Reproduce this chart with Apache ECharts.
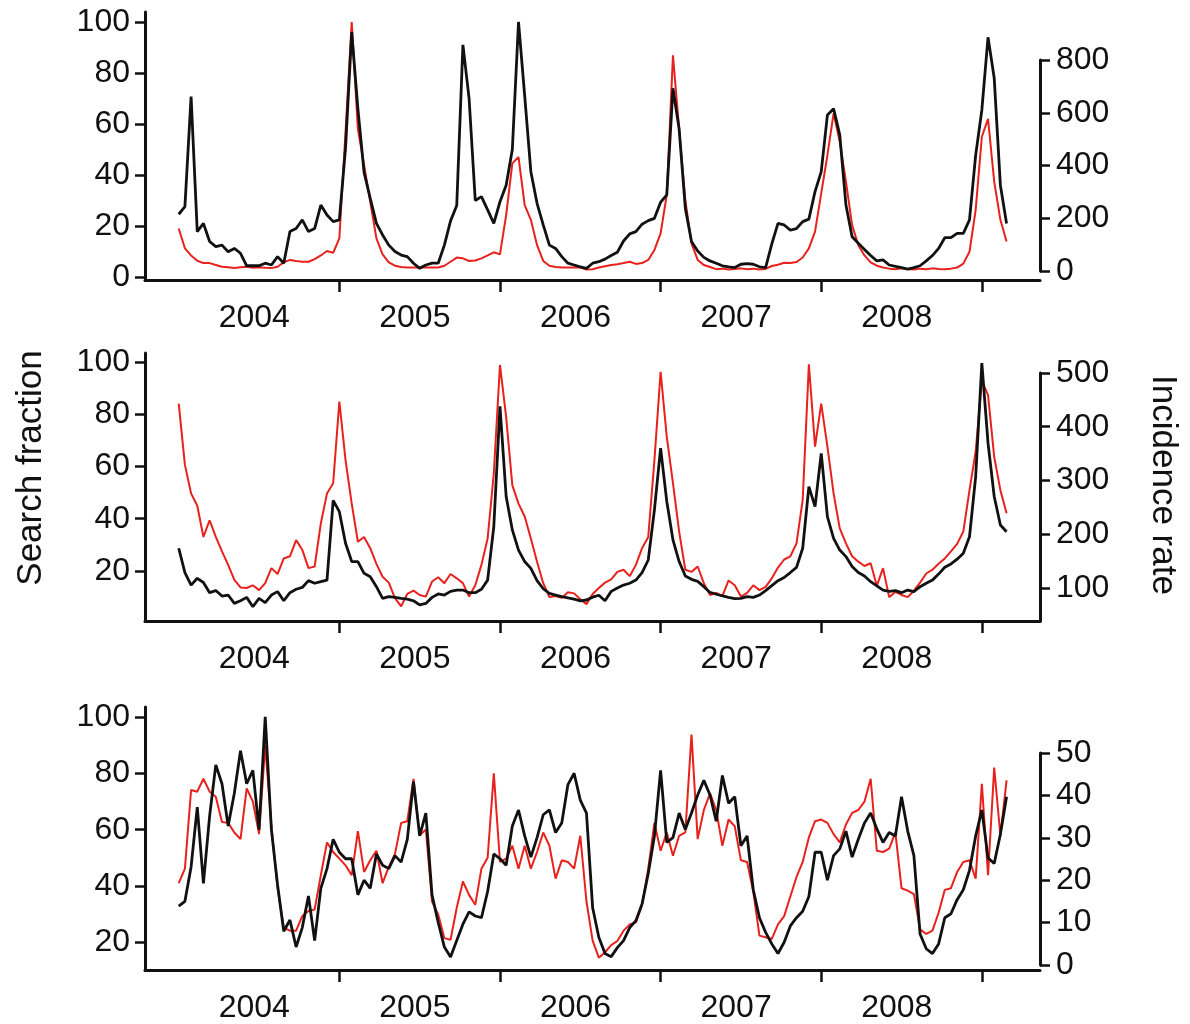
<!DOCTYPE html>
<html><head><meta charset="utf-8">
<script src="https://cdn.jsdelivr.net/npm/echarts@6/dist/echarts.min.js"></script>
<style>html,body{margin:0;padding:0;background:#fff}#c{width:1190px;height:1024px}</style>
</head><body><div id="c"></div><script>
// ---- data (biweekly samples starting Jan 2004) ----
const startYear = 2004;
const samplesPerYear = 26;
const yearTicks = [2005, 2006, 2007, 2008, 2009];
const yearLabels = ['2004', '2005', '2006', '2007', '2008'];

const p1LeftTicks = [0, 20, 40, 60, 80, 100];
const p1RightTicks = [0, 200, 400, 600, 800];
const p2LeftTicks = [20, 40, 60, 80, 100];
const p2RightTicks = [100, 200, 300, 400, 500];
const p3LeftTicks = [20, 40, 60, 80, 100];
const p3RightTicks = [0, 10, 20, 30, 40, 50];

// Panel 1
const p1Search = [24.6, 27.6, 70.7, 17.8, 21, 13.9, 11.9, 12.5, 9.9, 11.2,
 9.3, 4.4, 4.4, 4.4, 5.4, 4.7, 8, 5.4, 17.8, 19,
 22.4, 17.8, 19, 28.2, 24.3, 21.7, 22.4, 50.5, 96, 66,
 41, 30.8, 21, 16.5, 12.5, 10, 8.6, 8, 5.4, 3.4,
 4.7, 5.4, 5.4, 12.5, 22, 28, 91, 70, 30, 31.5,
 26.3, 21, 29.5, 36, 50, 100, 71, 41.3, 28.9, 20.4,
 12.5, 11.2, 8, 5.4, 4.7, 4, 3.4, 5.4, 6, 7,
 8.4, 9.7, 14.1, 16.9, 17.8, 20.7, 22.1, 23, 29.3, 32.2,
 74, 58, 27, 13.9, 10.2, 7.7, 6.3, 5.4, 4.4, 4,
 3.7, 5, 5.2, 5, 4, 3.7, 13, 21, 20.4, 18.4,
 19, 21.7, 22.7, 33.5, 41.3, 63.5, 66, 55.7, 28.2, 15.8,
 13.2, 10.8, 8.4, 6.3, 6.7, 4.7, 4.2, 3.7, 3.1, 3.7,
 4.4, 6.3, 8.4, 11.2, 15.4, 15.4, 17.1, 17.1, 22.4, 47.8,
 65.5, 94, 78, 36, 21];
const p1Incidence = [161, 86, 59, 39, 30, 30, 23, 16, 14, 11,
 14, 16, 12, 14, 12, 11, 16, 33, 42, 38,
 35, 35, 45, 59, 76, 69, 124, 528, 944, 538,
 403, 262, 124, 63, 33, 20, 15, 13, 13, 13,
 13, 13, 13, 20, 35, 51, 48, 38, 40, 48,
 59, 71, 63, 212, 408, 432, 250, 194, 98, 38,
 20, 15, 13, 13, 13, 13, 6, 7, 13, 18,
 23, 26, 30, 35, 27, 30, 42, 80, 143, 289,
 818, 538, 269, 105, 42, 23, 15, 7, 9, 6,
 8, 10, 7, 9, 6, 8, 19, 24, 31, 30,
 34, 51, 86, 149, 294, 439, 598, 490, 339, 174,
 98, 59, 33, 20, 13, 9, 7, 10, 8, 6,
 9, 7, 10, 8, 7, 9, 13, 28, 73, 232,
 509, 577, 339, 194, 112];

// Panel 2
const p2Search = [28.7, 19.4, 14.6, 17.2, 15.6, 11.7, 12.5, 10.4, 10.8, 7.6,
 8.6, 9.9, 6.3, 9.5, 7.9, 10.8, 12.1, 8.6, 11.7, 13,
 13.7, 16.3, 15.3, 15.9, 16.5, 47, 42.7, 30.6, 23.6, 23.6,
 19.1, 17.8, 14, 9.5, 10.2, 9.9, 9.5, 9.2, 8.6, 7,
 7.6, 9.9, 11.2, 10.8, 12.2, 12.7, 12.7, 11.7, 11.7, 13,
 16.5, 37, 83, 48.5, 35.7, 28, 23.6, 21, 16.3, 13.2,
 11.4, 10.8, 10.2, 9.7, 9.2, 8.6, 8.9, 10, 10.7, 8.6,
 12.2, 13.5, 14.6, 15.3, 16.5, 19.4, 24.2, 43.4, 67, 46.6,
 31.9, 23.6, 18.1, 16.8, 16, 14, 11.8, 11.1, 10.5, 9.9,
 9.4, 9.5, 10.2, 9.9, 10.8, 12.5, 14.4, 16.3, 17.5, 19.4,
 21.4, 28.7, 52.3, 44.6, 65, 40.8, 32.5, 28, 25.5, 21.7,
 19.4, 18.1, 15.9, 14.3, 12.7, 12.2, 12.5, 11.7, 12.7, 12.1,
 14, 15.3, 16.5, 18.8, 21.4, 22.7, 24.5, 26.8, 33.1, 56.1,
 99.5, 68.9, 48.5, 37.6, 35];
const p2Incidence = [443, 329, 276, 253, 195, 226, 195, 168, 143, 115,
 101, 100, 105, 96, 109, 137, 126, 155, 159, 189,
 171, 137, 140, 220, 276, 295, 447, 338, 257, 186,
 195, 174, 145, 121, 110, 81, 66, 89, 95, 87,
 84, 112, 120, 109, 126, 118, 109, 84, 105, 143,
 192, 313, 515, 418, 291, 257, 233, 192, 149, 109,
 83, 85, 82, 92, 90, 79, 70, 89, 100, 110,
 116, 130, 134, 122, 143, 174, 195, 338, 502, 381,
 295, 205, 134, 130, 140, 109, 87, 91, 85, 114,
 105, 84, 91, 105, 96, 102, 118, 138, 153, 159,
 183, 264, 516, 363, 443, 363, 276, 211, 183, 159,
 149, 141, 146, 104, 137, 83, 93, 87, 83, 95,
 110, 127, 134, 145, 155, 168, 182, 205, 282, 354,
 486, 459, 344, 282, 239];

// Panel 3
const p3Search = [32.9, 34.6, 46.8, 68, 41, 64.8, 83, 76.3, 61.3, 72.9,
 88, 76.3, 81, 60, 100, 60, 40.4, 24, 28, 18.4,
 25.3, 36.5, 20.7, 39.2, 46.2, 56.6, 52, 49.7, 49.7, 36.9,
 42.1, 39.2, 51.4, 47.4, 46.2, 50.8, 48.5, 56.6, 77, 57.8,
 65.9, 36.9, 27.1, 18.4, 14.9, 20.7, 26.5, 30.9, 29.4, 28.8,
 38.1, 51.4, 49.7, 47.4, 61.3, 67, 57.8, 50.3, 57.2, 65.3,
 67, 59, 62.4, 76, 80, 70.5, 65.9, 32.3, 21.9, 16.1,
 15, 18.2, 20.7, 25.3, 27.7, 33.7, 44.5, 57.8, 81, 55.5,
 57.2, 65.9, 60.1, 65.9, 72.3, 77.5, 72.3, 63, 79.2, 69.4,
 71.7, 54.3, 57.8, 38.7, 28.8, 23.6, 19.5, 16.1, 20.1, 25.9,
 28.8, 31.1, 36.3, 52, 52, 42.1, 50.8, 53.2, 59.5, 50.3,
 56.6, 62.4, 65.9, 60.3, 55.5, 59, 57.8, 71.7, 59.5, 50.8,
 23, 17.8, 16.1, 19.5, 28.8, 30.2, 35.2, 38.7, 45.6, 57.8,
 67, 50, 48, 58.4, 71.7];
const p3Incidence = [18.5, 22, 40.9, 40.5, 43.6, 40.5, 39.3, 33.2, 33, 30.7,
 29.1, 41.3, 38.1, 30.3, 51.7, 32.2, 17.3, 7.8, 7.1, 7.1,
 10.6, 11.8, 12.2, 20.4, 28.3, 26, 24.4, 22.8, 20.4, 31,
 21.2, 24, 26.3, 18.5, 22.4, 25.5, 33, 33.4, 43.6, 30,
 31.4, 14.1, 11, 5.3, 4.9, 12.6, 18.9, 15.7, 13.3, 22,
 24.6, 44.9, 23.6, 24.4, 27.5, 22, 27.5, 22, 26, 30.7,
 27.5, 19.6, 24, 23.6, 22, 29.9, 14.1, 4.7, 0.6, 1.9,
 3.6, 4.6, 7.1, 8.6, 9.1, 13.3, 22, 33, 26.3, 30.7,
 25.1, 29.9, 30.7, 54.2, 29.1, 36.1, 40.1, 36.1, 27.5, 33.8,
 32.2, 24, 23.6, 16.5, 5.9, 5.5, 5.1, 8.6, 10.6, 15.3,
 20, 23.6, 29.5, 33.4, 33.8, 33, 30.3, 28.3, 32.6, 35.4,
 36.1, 38.1, 43.6, 26.3, 26, 26.8, 30.7, 17.3, 16.7, 15.9,
 7.4, 6.3, 7.1, 11.4, 16.9, 17.3, 21.2, 23.6, 24, 19.6,
 42.4, 20.4, 46.3, 29.9, 43.2];

// ---- sampling dates (decimal years) ----
const times = p1Search.map((_, i) => startYear + i / samplesPerYear);
const pairs = arr => arr.map((v, i) => [times[i], v]);

// ---- layout / style ----
const FONT = '"Liberation Sans", Arial, Helvetica, sans-serif';
const INK = '#111';
const RED = '#e8211c';
const lab = { fontFamily: FONT, fontSize: 32, color: INK };
const X_MIN = 2003.79, X_MAX = 2009.362;
const GL = 145, GR = 150;

const panels = [
  { top: 12, bottom: 280, leftRange: [-1.18, 103.9], rightRange: [-34.1, 982],
    leftTicks: p1LeftTicks, rightTicks: p1RightTicks,
    dispTop: 60, dispBottom: 271, dispRange: [0, 800],
    search: p1Search, inc: p1Incidence },
  { top: 353, bottom: 621, leftRange: [0.86, 103.4], rightRange: [38.6, 537.2],
    leftTicks: p2LeftTicks, rightTicks: p2RightTicks,
    dispTop: 373, dispBottom: 621, dispRange: [38.6, 500],
    search: p2Search, inc: p2Incidence },
  { top: 707, bottom: 975, leftRange: [10.26, 103.5], rightRange: [-2.36, 60.85],
    leftTicks: p3LeftTicks, rightTicks: p3RightTicks,
    dispTop: 753, dispBottom: 965, dispRange: [0, 50],
    search: p3Search, inc: p3Incidence }
];

const grid = [], xAxis = [], yAxis = [], series = [];
const axLine = { show: true, onZero: false, lineStyle: { color: INK, width: 3 } };
const tickStyle = { color: INK, width: 2.5 };

panels.forEach((P, k) => {
  grid.push({ left: GL, right: GR, top: P.top, height: P.bottom - P.top });
  xAxis.push({
    gridIndex: k, type: 'value', min: X_MIN, max: X_MAX,
    axisLine: axLine,
    axisTick: { show: true, inside: false, length: 12, customValues: yearTicks, lineStyle: tickStyle },
    axisLabel: { ...lab, margin: 22, customValues: yearLabels.map(y => Number(y) + 0.47),
      formatter: v => String(Math.floor(v + 0.001)) },
    splitLine: { show: false }
  });
  const li = yAxis.length;
  yAxis.push({
    gridIndex: k, type: 'value', position: 'left', min: P.leftRange[0], max: P.leftRange[1],
    axisLine: axLine,
    axisTick: { show: true, inside: false, length: 10, customValues: P.leftTicks, lineStyle: tickStyle },
    axisLabel: { ...lab, margin: 15, customValues: P.leftTicks },
    splitLine: { show: false }
  });
  yAxis.push({
    gridIndex: k, type: 'value', position: 'right', min: P.rightRange[0], max: P.rightRange[1],
    show: false, splitLine: { show: false }
  });
  series.push({
    type: 'line', xAxisIndex: k, yAxisIndex: li + 1, data: pairs(P.inc),
    showSymbol: false, symbol: 'none', lineStyle: { color: RED, width: 2 }, z: 2
  });
  series.push({
    type: 'line', xAxisIndex: k, yAxisIndex: li, data: pairs(P.search),
    showSymbol: false, symbol: 'none', lineStyle: { color: INK, width: 2.8 }, z: 3
  });
});

// right-hand display axes (span only their labelled range)
panels.forEach((P, k) => {
  const gi = grid.length;
  grid.push({ left: GL, right: GR, top: P.dispTop, height: P.dispBottom - P.dispTop });
  xAxis.push({ gridIndex: gi, type: 'value', min: 0, max: 1, show: false });
  yAxis.push({
    gridIndex: gi, type: 'value', position: 'right', min: P.dispRange[0], max: P.dispRange[1],
    axisLine: axLine,
    axisTick: { show: true, inside: false, length: 10, customValues: P.rightTicks, lineStyle: tickStyle },
    axisLabel: { ...lab, margin: 16, customValues: P.rightTicks },
    splitLine: { show: false }
  });
});

const chart = echarts.init(document.getElementById('c'), null, { renderer: 'canvas' });
chart.setOption({
  animation: false,
  backgroundColor: '#fff',
  grid, xAxis, yAxis, series,
  graphic: [
    { type: 'text', x: 31, y: 468, rotation: Math.PI / 2,
      style: { text: 'Search fraction', font: '35px "Liberation Sans", Arial, sans-serif', fill: INK, align: 'center', verticalAlign: 'middle' } },
    { type: 'text', x: 1163, y: 485, rotation: -Math.PI / 2,
      style: { text: 'Incidence rate', font: '35px "Liberation Sans", Arial, sans-serif', fill: INK, align: 'center', verticalAlign: 'middle' } }
  ]
});
</script></body></html>
